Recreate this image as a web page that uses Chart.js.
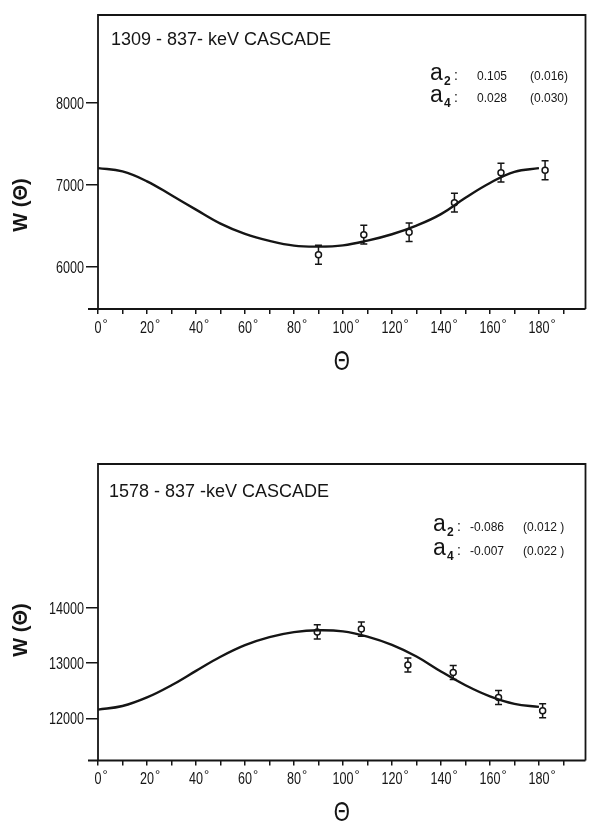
<!DOCTYPE html>
<html>
<head>
<meta charset="utf-8">
<script src="https://cdn.jsdelivr.net/npm/chart.js@4.4.0/dist/chart.umd.min.js"></script>
<style>
body { margin: 0; background: #fff; }
.panel { position: absolute; left: 0; width: 591px; }
</style>
</head>
<body>
<div class="panel" style="top:0;height:412px"><canvas id="topChart" width="591" height="412"></canvas></div>
<div class="panel" style="top:412px;height:413px"><canvas id="bottomChart" width="591" height="413"></canvas></div>
<script>
const curveAngles = [0, 10, 20, 30, 40, 50, 60, 70, 80, 90, 100, 110, 120, 130, 140, 150, 160, 170, 180];
const xTicks = [0, 10, 20, 30, 40, 50, 60, 70, 80, 90, 100, 110, 120, 130, 140, 150, 160, 170, 180, 190];

// 1309 - 837 keV
const topCurve = [7205, 7165, 7045, 6875, 6700, 6530, 6405, 6320, 6262, 6250, 6265, 6322, 6400, 6505, 6645, 6845, 7025, 7160, 7205];
const topAngles = [90, 108.5, 127, 145.5, 164.5, 182.5];
const topValues = [6150, 6395, 6425, 6785, 7150, 7180];
const topErrors = [115, 115, 112, 115, 115, 115];
const topYTicks = [6000, 7000, 8000];

// 1578 - 837 keV
const bottomCurve = [12160, 12225, 12380, 12600, 12860, 13115, 13325, 13470, 13560, 13595, 13575, 13480, 13330, 13120, 12850, 12600, 12400, 12265, 12210];
const bottomAngles = [89.5, 107.5, 126.5, 145, 163.5, 181.5];
const bottomValues = [13565, 13615, 12965, 12830, 12380, 12140];
const bottomErrors = [130, 128, 127, 127, 127, 127];
const bottomYTicks = [12000, 13000, 14000];

const ink = '#151515';
const sans = "'Liberation Sans', sans-serif";
Chart.defaults.font.family = sans;
Chart.defaults.color = ink;

// tick labels of the original are a narrow stencil face; squeeze a normal one
function narrowText(ctx, text, x, y, align) {
    let squeeze = 0.74;
    let w = ctx.measureText(text).width * squeeze;
    let left = align === 'right' ? x - w : (align === 'center' ? x - w / 2 : x);
    ctx.save();
    ctx.translate(left, y);
    ctx.scale(squeeze, 1);
    ctx.textAlign = 'left';
    ctx.fillText(text, 0, 0);
    ctx.restore();
    return w;
}

function makePaper(p) {
    return {
        id: 'paper',
        beforeDatasetsDraw(chart) {
            let ctx = chart.ctx, x = chart.scales.x, y = chart.scales.y;
            ctx.save();
            ctx.strokeStyle = ink;
            ctx.lineWidth = 1.5;
            p.angles.forEach((a, i) => {
                let px = x.getPixelForValue(a);
                let hi = y.getPixelForValue(p.values[i] + p.errors[i]);
                let lo = y.getPixelForValue(p.values[i] - p.errors[i]);
                ctx.beginPath();
                ctx.moveTo(px, hi); ctx.lineTo(px, lo);
                ctx.moveTo(px - 3.5, hi); ctx.lineTo(px + 3.5, hi);
                ctx.moveTo(px - 3.5, lo); ctx.lineTo(px + 3.5, lo);
                ctx.stroke();
            });
            ctx.restore();
        },
        afterDraw(chart) {
            let ctx = chart.ctx, area = chart.chartArea;
            let xs = chart.scales.x, ys = chart.scales.y;
            ctx.save();
            ctx.strokeStyle = ink;
            ctx.lineWidth = 1.8;
            ctx.beginPath();
            ctx.moveTo(area.left, area.bottom);
            ctx.lineTo(area.left, area.top);
            ctx.lineTo(area.right, area.top);
            ctx.lineTo(area.right, area.bottom);
            ctx.moveTo(area.left - 10, area.bottom);
            ctx.lineTo(area.right, area.bottom);
            ctx.stroke();

            ctx.fillStyle = ink;
            ctx.textBaseline = 'middle';

            // axis tick labels, taken from the scales' own ticks
            ctx.font = "17px " + sans;
            xs.ticks.forEach((t) => {
                if (!t.label) return;
                let px = xs.getPixelForValue(t.value);
                let num = String(t.label).replace('°', '');
                let w = narrowText(ctx, num, px, area.bottom + 19, 'center');
                ctx.save();
                ctx.font = "13px " + sans;
                ctx.fillText('°', px + w / 2 + 1, area.bottom + 15);
                ctx.restore();
            });
            ys.ticks.forEach((t) => {
                narrowText(ctx, String(t.label), area.left - 14, ys.getPixelForValue(t.value) + 1, 'right');
            });

            ctx.textAlign = 'left';
            ctx.font = "18px " + sans;
            ctx.fillText(p.title, p.titleX, p.titleY);

            p.coefs.forEach((c, i) => {
                let cy = p.coefY[i];
                ctx.font = "23px " + sans;
                ctx.fillText('a', p.coefX, cy - 3);
                ctx.font = "bold 12px " + sans;
                ctx.fillText(c.sub, p.coefX + 14, cy + 5);
                ctx.font = "14px " + sans;
                ctx.fillText(':', p.coefX + 24, cy - 1);
                ctx.font = "12px " + sans;
                ctx.fillText(c.value, p.valueX, cy);
                ctx.fillText(c.error, p.errorX, cy);
            });

            ctx.textAlign = 'center';
            ctx.font = "28px " + sans;
            narrowText(ctx, 'Θ', (area.left + area.right) / 2, area.bottom + 53, 'center');

            ctx.translate(p.wX, p.wY);
            ctx.rotate(-Math.PI / 2);
            ctx.font = "bold 20px " + sans;
            ctx.fillText('W (Θ)', 0, 0);
            ctx.restore();
        }
    };
}

function drawPanel(canvasId, p) {
    let ctx = document.getElementById(canvasId);
    new Chart(ctx, {
        type: 'scatter',
        data: {
            datasets: [{
                data: curveAngles.map((a, i) => ({ x: a, y: p.curve[i] })),
                showLine: true,
                borderColor: ink,
                borderWidth: 2.4,
                pointRadius: 0,
                tension: 0.4
            }, {
                data: p.angles.map((a, i) => ({ x: a, y: p.values[i] })),
                showLine: false,
                pointRadius: 3,
                pointBorderWidth: 1.5,
                pointBorderColor: ink,
                pointBackgroundColor: '#fff'
            }]
        },
        options: {
            responsive: false,
            animation: false,
            layout: {
                padding: { top: p.padTop, right: 1, bottom: p.padBottom, left: 0 }
            },
            scales: {
                x: {
                    type: 'linear',
                    min: 0,
                    max: 199,
                    afterBuildTicks: (s) => { s.ticks = xTicks.map(v => ({ value: v })); },
                    afterFit: (s) => { s.height = 60; },
                    grid: {
                        drawOnChartArea: false,
                        tickLength: 5,
                        color: ink,
                        lineWidth: 1.5
                    },
                    border: { display: false },
                    ticks: {
                        display: false,
                        callback: (v) => (v % 20 === 0 && v <= 180 ? v + '°' : ''),
                        autoSkip: false
                    }
                },
                y: {
                    min: p.yMin,
                    max: p.yMax,
                    afterBuildTicks: (s) => { s.ticks = p.yTicks.map(v => ({ value: v })); },
                    afterFit: (s) => { s.width = 98; },
                    grid: {
                        drawOnChartArea: false,
                        tickLength: 12,
                        color: ink,
                        lineWidth: 1.5
                    },
                    border: { display: false },
                    ticks: {
                        display: false,
                        callback: (v) => String(v)
                    }
                }
            },
            plugins: {
                legend: { display: false },
                tooltip: { enabled: false }
            }
        },
        plugins: [makePaper(p)]
    });
}

drawPanel('topChart', {
    curve: topCurve, angles: topAngles, values: topValues, errors: topErrors, yTicks: topYTicks,
    yMin: 5490, yMax: 9070, padTop: 15, padBottom: 43,
    title: '1309 - 837- keV CASCADE', titleX: 111, titleY: 40,
    coefs: [{ sub: '2', value: '0.105', error: '(0.016)' }, { sub: '4', value: '0.028', error: '(0.030)' }],
    coefX: 430, coefY: [77, 99], valueX: 477, errorX: 530,
    wX: 21, wY: 205
});

drawPanel('bottomChart', {
    curve: bottomCurve, angles: bottomAngles, values: bottomValues, errors: bottomErrors, yTicks: bottomYTicks,
    yMin: 11240, yMax: 16600, padTop: 52, padBottom: 4.5,
    title: '1578 - 837 -keV CASCADE', titleX: 109, titleY: 80,
    coefs: [{ sub: '2', value: '-0.086', error: '(0.012 )' }, { sub: '4', value: '-0.007', error: '(0.022 )' }],
    coefX: 433, coefY: [116, 140], valueX: 470, errorX: 523,
    wX: 21, wY: 218
});
</script>
</body>
</html>
